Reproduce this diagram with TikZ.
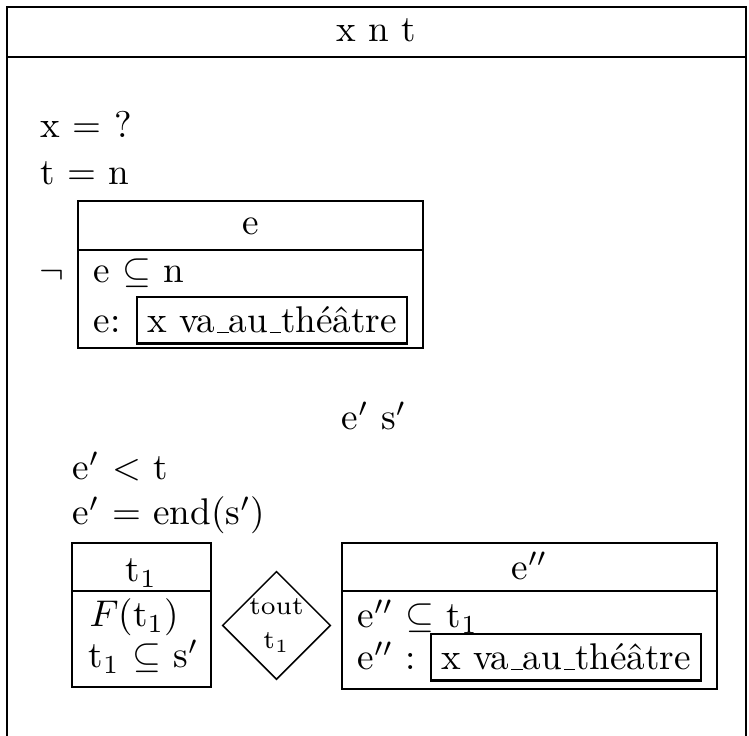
\documentclass[tikz,border=0pt]{standalone}
\usetikzlibrary{shapes.geometric}

% underscore as a short rule on the baseline
\newcommand{\drsunder}{\leavevmode\kern.06em\vbox{\hrule width.3em}}

\begin{document}
\begin{tikzpicture}[
        x=0.269pt, y=-0.269pt,
        drs line/.style={line width=0.8pt},
        universe/.style={anchor=base, inner sep=0pt},
        condition/.style={anchor=base west, inner sep=0pt},
        pred box/.style={draw, line width=0.8pt, anchor=base west, inner sep=2.7pt, outer sep=0pt},
        quant/.style={draw, diamond, line width=0.4pt, inner sep=0pt, outer sep=0pt,
            minimum width=28.8pt, minimum height=28.2pt, align=center, font=\scriptsize},
    ]

    \useasboundingbox (0,0) rectangle (749,736);

    % Cadre principal, ouvert en bas
    \draw[drs line] (7,736) -- (7,7) -- (746,7) -- (746,736);
    \draw[drs line] (7,57) -- (746,57);
    \node[universe] (univ-main) at (376.5,42) {x n t};

    % Conditions du cadre principal
    \node[condition] (cond-x) at (40,138) {x = ?};
    \node[condition] (cond-t) at (40,185) {t = n};

    % Les trois sous-boîtes : coin haut gauche / coin bas droit / séparateur
    \foreach \xa/\ya/\xb/\yb/\yd in {78/201/423/348/250, 72/543/211/687/591, 342/543/717/689/591} {
        \draw[drs line] (\xa,\ya) rectangle (\xb,\yb);
        \draw[drs line] (\xa,\yd) -- (\xb,\yd);
    }

    % Négation
    \node[inner sep=0pt] (neg) at (52,276) {$\neg$};
    \node[universe] (univ-e) at (250.5,235) {e};
    \node[condition] (cond-en) at (93,283) {e $\subseteq$ n};
    \node[condition] (cond-e) at (93,333) {e:};
    \node[pred box] (pred-e) at (137,333) {x va\drsunder au\drsunder th\'e\^atre};

    % Second univers
    \node[universe] (univ-es) at (374,430) {e$'$ s$'$};
    \node[condition] (cond-lt) at (72,480) {e$'$ $<$ t};
    \node[condition] (cond-end) at (72,525) {e$'$ = end(s$'$)};

    % Antécédent de la condition universelle
    \node[universe] (univ-t) at (141.5,582) {t$_1$};
    \node[condition] (cond-f) at (89,627) {$F$(t$_1$)};
    \node[condition] (cond-ts) at (88,668) {t$_1$ $\subseteq$ s$'$};

    % Quantificateur
    \node[quant] (tout) at (276.5,625.5) {tout\\[1pt]t$_1$};

    % Conséquent
    \node[universe] (univ-ee) at (529.5,580) {e$''$};
    \node[condition] (cond-et) at (357,628) {e$''$ $\subseteq$ t$_1$};
    \node[condition] (cond-ee) at (357,670) {e$''$ :};
    \node[pred box] (pred-ee) at (431,670) {x va\drsunder au\drsunder th\'e\^atre};

\end{tikzpicture}
\end{document}
